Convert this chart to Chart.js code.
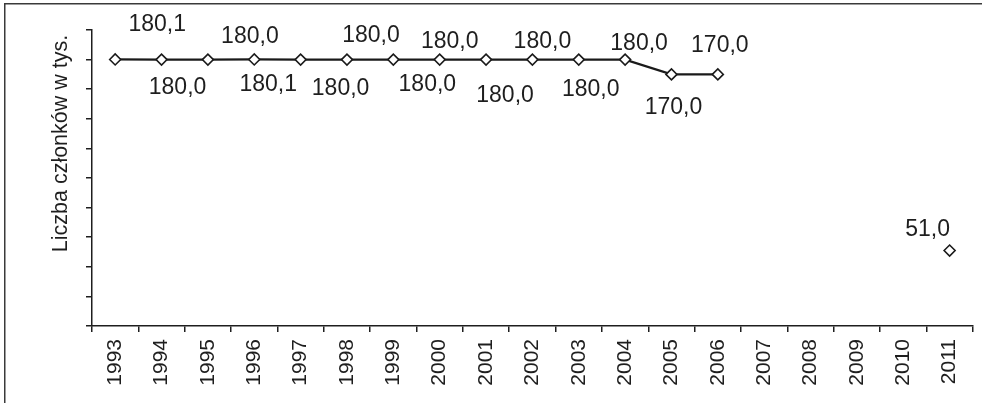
<!DOCTYPE html>
<html>
<head>
<meta charset="utf-8">
<script src="https://cdn.jsdelivr.net/npm/chart.js@4.4.1/dist/chart.umd.min.js"></script>
<style>
  body { margin: 0; background: #fff; }
  canvas { display: block; }
</style>
</head>
<body>
<canvas id="membersChart" width="982" height="403"></canvas>
<script>
const years = ['1993', '1994', '1995', '1996', '1997', '1998', '1999', '2000', '2001', '2002',
               '2003', '2004', '2005', '2006', '2007', '2008', '2009', '2010', '2011'];
const members = [180.1, 180.0, 180.0, 180.1, 180.0, 180.0, 180.0, 180.0, 180.0, 180.0,
                 180.0, 180.0, 170.0, 170.0, null, null, null, null, 51.0];
const yTitle = 'Liczba członków w tys.';

// przesunięcia etykiet względem punktu (dx, dy) - ręcznie ułożone jak w oryginale
const labelOffsets = [
    [42, -37], [16, 26], [42, -25], [14, 23], [40, 27], [24, -26], [34, 23],
    [10, -20], [19, 34], [10, -20], [12, 28], [14, -18], [2, 31], [2, -31],
    null, null, null, null, [-22, -23]
];

const FONT = "'Liberation Sans', Arial, sans-serif";
const INK = '#1e1e1e';

const framePlugin = {
    id: 'frame',
    beforeDraw(chart) {
        const ctx = chart.ctx;
        ctx.save();
        ctx.fillStyle = '#3a3a3a';
        ctx.fillRect(4, 3, chart.width - 4, 1.5);
        ctx.fillRect(4, 3, 1.5, chart.height - 3);
        ctx.restore();
    }
};

const valueLabels = {
    id: 'valueLabels',
    afterDatasetsDraw(chart) {
        const ctx = chart.ctx;
        const meta = chart.getDatasetMeta(0);
        ctx.save();
        ctx.font = '23px ' + FONT;
        ctx.fillStyle = INK;
        ctx.textAlign = 'center';
        ctx.textBaseline = 'alphabetic';
        meta.data.forEach((pt, i) => {
            const v = members[i];
            if (v === null || !labelOffsets[i]) return;
            const [dx, dy] = labelOffsets[i];
            const txt = v.toFixed(1).replace('.', ',');
            ctx.fillText(txt, pt.x + dx, pt.y + dy + 23 * 0.358);
        });
        // tytuł osi Y
        ctx.font = '21.5px ' + FONT;
        ctx.translate(67, 143.5);
        ctx.rotate(-Math.PI / 2);
        ctx.fillText(yTitle, 0, 0);
        ctx.restore();
    }
};

new Chart(document.getElementById('membersChart'), {
    type: 'line',
    data: {
        labels: years,
        datasets: [{
            data: members,
            borderColor: '#1a1a1a',
            borderWidth: 2.3,
            tension: 0,
            spanGaps: false,
            pointStyle: 'rectRot',
            pointRadius: 5.5,
            pointBackgroundColor: '#fff',
            pointBorderColor: '#1a1a1a',
            pointBorderWidth: 1.6
        }]
    },
    options: {
        responsive: false,
        animation: false,
        layout: { padding: { top: 30, right: 4, bottom: 0, left: 0 } },
        plugins: {
            legend: { display: false },
            tooltip: { enabled: false }
        },
        scales: {
            x: {
                offset: true,
                grid: {
                    offset: true,
                    drawOnChartArea: false,
                    tickLength: 6,
                    color: INK,
                    lineWidth: 1.5
                },
                border: { color: INK, width: 1.5 },
                ticks: {
                    autoSkip: false,
                    minRotation: 90,
                    maxRotation: 90,
                    padding: 7,
                    color: INK,
                    font: { family: FONT, size: 21 }
                },
                afterFit: s => { s.height = 77; }
            },
            y: {
                min: 0,
                max: 200,
                grid: {
                    drawOnChartArea: false,
                    tickLength: 6,
                    color: INK,
                    lineWidth: 1.5
                },
                border: { color: INK, width: 1.5 },
                ticks: { stepSize: 20, color: 'transparent' },
                afterFit: s => { s.width = 92; }
            }
        }
    },
    plugins: [framePlugin, valueLabels]
});
</script>
</body>
</html>
